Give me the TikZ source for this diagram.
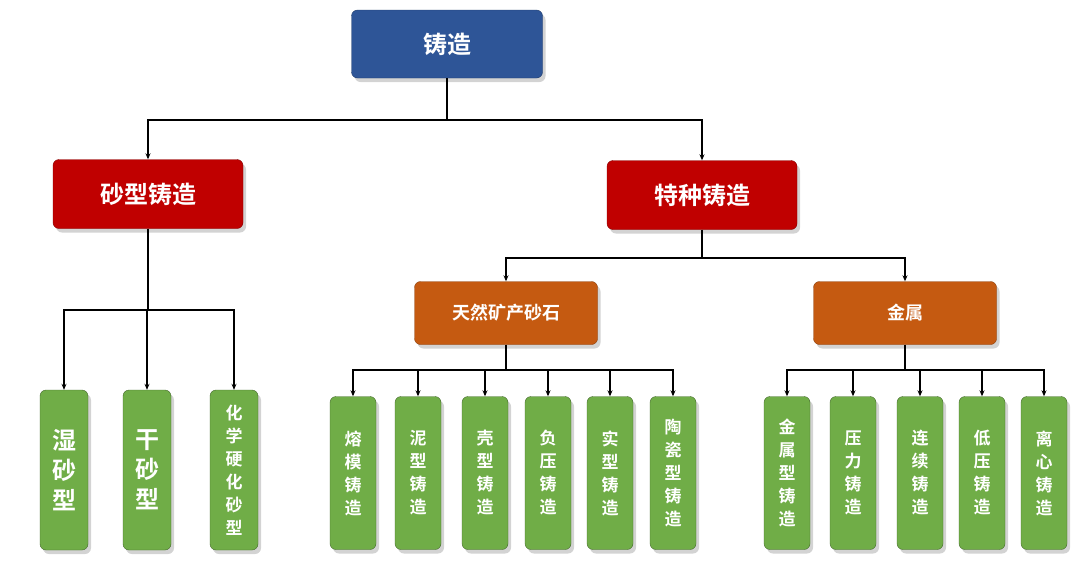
\documentclass[tikz,border=0pt]{standalone}
\usepackage{fontspec}
\newfontfamily\cjk{Noto Sans CJK SC}[BoldFont={Noto Sans CJK SC Bold}]
\usetikzlibrary{shadows,arrows.meta}
\definecolor{cblue}{HTML}{2E5597}
\definecolor{cred}{HTML}{C00000}
\definecolor{corg}{HTML}{C55A11}
\definecolor{cgrn}{HTML}{70AD47}
\begin{document}
\begin{tikzpicture}[x=1pt,y=-1pt,
 box/.style={rounded corners=6pt,drop shadow={shadow xshift=3pt,shadow yshift=-4pt,opacity=0.35},text=white,font=\cjk\bfseries,inner sep=0pt},
 top/.style={box,fill=cblue,draw=cblue!70!black,minimum width=191pt,minimum height=68pt,font=\cjk\bfseries\fontsize{24}{28}\selectfont},
 lvl/.style={box,fill=cred,draw=cred!70!black,minimum width=190pt,minimum height=69pt,font=\cjk\bfseries\fontsize{24}{28}\selectfont},
 mid/.style={box,fill=corg,draw=corg!70!black,minimum width=183pt,minimum height=63pt,font=\cjk\bfseries\fontsize{18}{22}\selectfont},
 leaf/.style={box,fill=cgrn,draw=cgrn!60!black,minimum width=46pt,minimum height=153pt,align=center},
 big/.style={font=\cjk\bfseries\fontsize{24}{30}\selectfont},
 sml/.style={font=\cjk\bfseries\fontsize{17}{23}\selectfont},
 con/.style={draw=black,line width=1.1pt},
 arr/.style={con,-{Stealth[length=6pt,width=5pt]}}]
\useasboundingbox (0,0) rectangle (1080,587);
\node[top] (t) at (447,44) {铸造};
\node[lvl] (s) at (148,194) {砂型铸造};
\node[lvl] (p) at (702,195) {特种铸造};
\node[mid] (n) at (506,313) {天然矿产砂石};
\node[mid] (m) at (905,313) {金属};
\node[leaf,big,minimum width=48pt,minimum height=160pt] (a1) at (64,470) {湿\\砂\\型};
\node[leaf,big,minimum width=48pt,minimum height=160pt] (a2) at (147,470) {干\\砂\\型};
\node[leaf,sml,minimum width=48pt,minimum height=160pt] (a3) at (234,470) {化\\学\\硬\\化\\砂\\型};
\foreach \i/\x/\t in {1/353/熔\\模\\铸\\造,2/418/泥\\型\\铸\\造,3/485/壳\\型\\铸\\造,4/548/负\\压\\铸\\造,5/610/实\\型\\铸\\造,6/673/陶\\瓷\\型\\铸\\造}
  \node[leaf,sml] (b\i) at (\x,473) {\t};
\foreach \i/\x/\t in {1/787/金\\属\\型\\铸\\造,2/853/压\\力\\铸\\造,3/920/连\\续\\铸\\造,4/982/低\\压\\铸\\造,5/1044/离\\心\\铸\\造}
  \node[leaf,sml] (c\i) at (\x,473) {\t};
\coordinate (j0) at (447,120);
\draw[con] (t.south) -- (j0);
\draw[arr] (j0) -| (s.north);
\draw[arr] (j0) -| (p.north);
\coordinate (j1) at (148,310);
\draw[con] (s.south) -- (j1);
\foreach \k in {a1,a2,a3} \draw[arr] (j1) -| (\k.north);
\coordinate (j2) at (702,258);
\draw[con] (p.south) -- (j2);
\draw[arr] (j2) -| (n.north); \draw[arr] (j2) -| (m.north);
\coordinate (j3) at (506,370);
\draw[con] (n.south) -- (j3);
\foreach \k in {b1,b2,b3,b4,b5,b6} \draw[arr] (j3) -| (\k.north);
\coordinate (j4) at (905,370);
\draw[con] (m.south) -- (j4);
\foreach \k in {c1,c2,c3,c4,c5} \draw[arr] (j4) -| (\k.north);
\end{tikzpicture}
\end{document}
